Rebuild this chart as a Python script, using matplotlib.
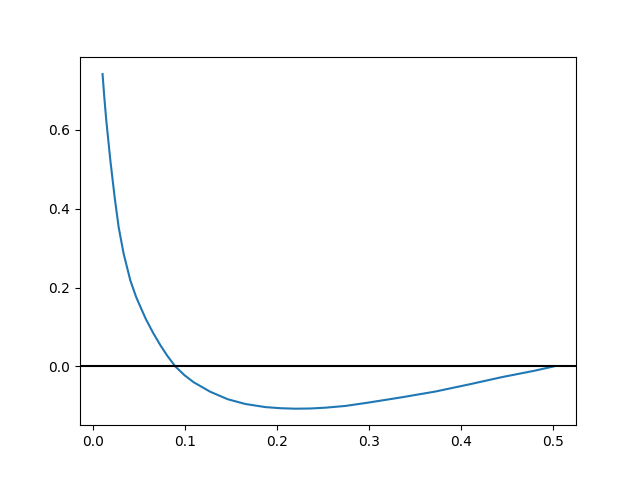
import matplotlib
matplotlib.use("Agg")
import matplotlib.pyplot as plt

x_vals = [0.010, 0.012, 0.014, 0.0185, 0.0232, 0.0275, 0.033, 0.0402, 0.0465, 0.0525,
          0.0573, 0.065, 0.0728, 0.0801, 0.0891, 0.099, 0.109, 0.127, 0.146, 0.165,
          0.187, 0.2035, 0.2196, 0.236, 0.252, 0.274, 0.299, 0.3355, 0.3717, 0.408,
          0.444, 0.480, 0.500]
y_vals = [0.741, 0.680, 0.625, 0.522, 0.428, 0.353, 0.285, 0.218, 0.176, 0.144,
          0.119, 0.085, 0.054, 0.028, 0.0, -0.022, -0.040, -0.064, -0.083, -0.095,
          -0.103, -0.1058, -0.107, -0.1065, -0.1045, -0.100, -0.0915, -0.078, -0.0635, -0.0456,
          -0.027, -0.0105, 0.0]

fig, ax = plt.subplots(figsize=(6.4, 4.78), dpi=100)
ax.plot(x_vals, y_vals)
ax.axhline(0, color="black")
fig.savefig("out.png")
